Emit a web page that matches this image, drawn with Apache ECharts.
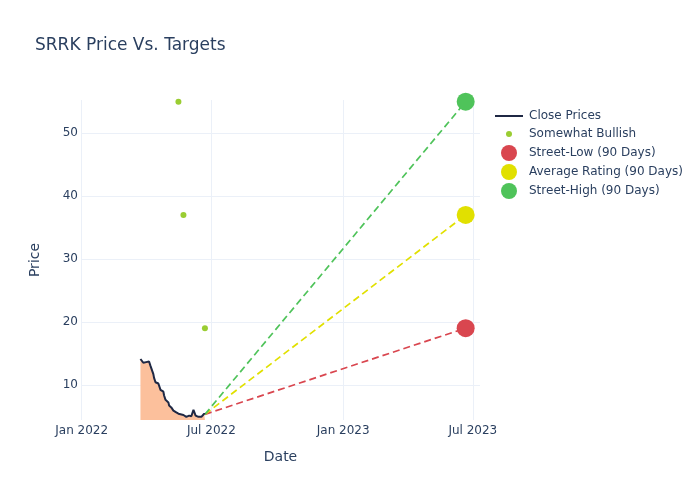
<!DOCTYPE html>
<html>
<head>
<meta charset="utf-8">
<script src="https://cdn.jsdelivr.net/npm/echarts@6/dist/echarts.min.js"></script>
<style>html,body{margin:0;padding:0;background:#fff;}#c{width:700px;height:500px;}</style>
</head>
<body>
<div id="c"></div>
<script>
// ---- data ----
const closeDates = ['2022-03-24','2022-03-28','2022-03-30','2022-04-01','2022-04-05','2022-04-07','2022-04-11','2022-04-12','2022-04-14','2022-04-18','2022-04-19','2022-04-21','2022-04-25','2022-04-26','2022-04-28','2022-05-02','2022-05-03','2022-05-06','2022-05-09','2022-05-11','2022-05-13','2022-05-16','2022-05-18','2022-05-23','2022-05-25','2022-05-27','2022-05-31','2022-06-03','2022-06-06','2022-06-08','2022-06-09','2022-06-13','2022-06-15','2022-06-17','2022-06-21','2022-06-22'];
const closePrices = [14.1,13.5,13.3,13.6,13.7,13.0,11.7,11.1,10.4,10.2,9.9,9.2,8.9,8.3,7.6,7.2,6.7,6.4,5.9,6.0,5.6,5.4,5.6,5.2,5.1,4.9,5.1,5.0,6.0,5.8,5.1,4.9,5.2,4.9,5.4,5.3];
const bullishDates = ['2022-05-16','2022-05-23','2022-06-22'];
const bullishTargets = [55, 37, 19];
const targetDate = '2023-06-21';
const streetLow = 19;
const averageRating = 37;
const streetHigh = 55;
const xTickDates = ['2022-01-01','2022-07-01','2023-01-01','2023-07-01'];
const xTickLabels = ['Jan 2022','Jul 2022','Jan 2023','Jul 2023'];
const yTicks = [10,20,30,40,50];

// ---- chart ----
const FONT = 'DejaVu Sans';
const TXT = '#2a3f5f';
const GRID = '#ebf0f8';
const lastDate = closeDates[closeDates.length-1];
const lastClose = closePrices[closePrices.length-1];
const ts = d => new Date(d + 'T00:00:00Z').getTime();
const xTickTs = xTickDates.map(ts);
const labelMap = {};
xTickTs.forEach((t,i)=>labelMap[t]=xTickLabels[i]);

const C_LINE = '#1f2844', C_FILL = '#fcc09c', C_BULL = '#9acd32',
      C_LOW = '#d9464f', C_AVG = '#e1e000', C_HIGH = '#4fc35a';

const chart = echarts.init(document.getElementById('c'), null, {renderer:'canvas'});

function leg(name, top, icon, w, h, left, pad) {
  return {
    data:[name], orient:'vertical', left:left, top:top, icon:icon,
    itemWidth:w, itemHeight:h, itemGap:0,
    textStyle:{fontFamily:FONT, fontSize:12, color:TXT, padding:[0,0,0,pad]},
    selectedMode:false
  };
}

chart.setOption({
  animation:false,
  backgroundColor:'#fff',
  title:{text:'SRRK Price Vs. Targets', left:30, top:32,
    textStyle:{fontFamily:FONT, fontSize:17, fontWeight:'normal', color:TXT}},
  legend:[
    leg('Close Prices', 105, 'path://M0,0 L30,0 L30,2.2 L0,2.2 Z', 28, 2.2, 490, 1),
    leg('Somewhat Bullish', 123, 'circle', 6, 6, 501, 12),
    leg('Street-Low (90 Days)', 140, 'circle', 16, 16, 496, 7),
    leg('Average Rating (90 Days)', 159, 'circle', 16, 16, 496, 7),
    leg('Street-High (90 Days)', 178, 'circle', 16, 16, 496, 7)
  ],
  grid:{left:81, right:220, top:100, bottom:80, containLabel:false},
  xAxis:{
    type:'value', min:ts('2021-12-31'), max:ts('2023-07-11'),
    name:'Date', nameLocation:'middle', nameGap:30,
    nameTextStyle:{fontFamily:FONT, fontSize:14, color:TXT},
    axisLine:{show:false}, axisTick:{show:false, customValues:xTickTs},
    axisLabel:{customValues:xTickTs, formatter:v=>labelMap[v]||'', fontFamily:FONT, fontSize:12, color:TXT, margin:5},
    splitLine:{show:true, lineStyle:{color:GRID, width:1}}
  },
  yAxis:{
    type:'value', min:4.4, max:55.27,
    name:'Price', nameLocation:'middle', nameGap:39,
    nameTextStyle:{fontFamily:FONT, fontSize:14, color:TXT},
    axisLine:{show:false}, axisTick:{show:false, customValues:yTicks},
    axisLabel:{customValues:yTicks, fontFamily:FONT, fontSize:12, color:TXT, margin:3},
    splitLine:{show:true, lineStyle:{color:GRID, width:1}}
  },
  series:[
    {name:'Close Prices', type:'line', data:closeDates.map((d,i)=>[ts(d), closePrices[i]]),
      showSymbol:false, lineStyle:{color:C_LINE, width:2}, itemStyle:{color:C_LINE},
      areaStyle:{color:C_FILL, opacity:1, origin:'start'}, z:3},
    {name:'low-line', type:'line', data:[[ts(lastDate), lastClose],[ts(targetDate), streetLow]],
      showSymbol:false, lineStyle:{color:C_LOW, width:1.7, type:[7,4]}, z:2},
    {name:'avg-line', type:'line', data:[[ts(lastDate), lastClose],[ts(targetDate), averageRating]],
      showSymbol:false, lineStyle:{color:C_AVG, width:1.7, type:[7,4]}, z:2},
    {name:'high-line', type:'line', data:[[ts(lastDate), lastClose],[ts(targetDate), streetHigh]],
      showSymbol:false, lineStyle:{color:C_HIGH, width:1.7, type:[7,4]}, z:2},
    {name:'Somewhat Bullish', type:'scatter', data:bullishDates.map((d,i)=>[ts(d), bullishTargets[i]]),
      symbolSize:6, itemStyle:{color:C_BULL, opacity:1}, z:4},
    {name:'Street-Low (90 Days)', type:'scatter', data:[[ts(targetDate), streetLow]],
      symbolSize:18, itemStyle:{color:C_LOW, opacity:1}, z:5},
    {name:'Average Rating (90 Days)', type:'scatter', data:[[ts(targetDate), averageRating]],
      symbolSize:18, itemStyle:{color:C_AVG, opacity:1}, z:5},
    {name:'Street-High (90 Days)', type:'scatter', data:[[ts(targetDate), streetHigh]],
      symbolSize:18, itemStyle:{color:C_HIGH, opacity:1}, z:5}
  ]
});
</script>
</body>
</html>
